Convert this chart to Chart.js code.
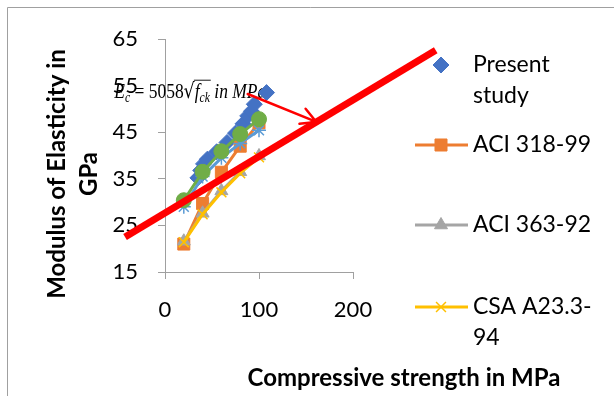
<!DOCTYPE html>
<html>
<head>
<meta charset="utf-8">
<script src="https://cdn.jsdelivr.net/npm/chart.js@4.4.1/dist/chart.umd.min.js"></script>
<style>
html, body { margin: 0; padding: 0; background: #fff; }
canvas { display: block; }
</style>
</head>
<body>
<canvas id="grafico" width="614" height="396"></canvas>
<script>
// datos (fck en MPa, Ec en GPa)
const resistencia = [20, 40, 60, 80, 100];
const presenteX = [35, 38, 41, 45, 55, 66, 75, 83, 88, 92, 95, 108];
const presenteY = [35.2, 36.8, 38.2, 39.2, 40.8, 42.8, 44.8, 46.8, 48.5, 49.5, 51.0, 53.5];
const aci318 = [21.0, 29.7, 36.4, 42.0, 47.0];
const aci363 = [21.6, 27.6, 32.4, 36.5, 39.9];
const csa = [21.4, 27.4, 32.1, 36.2, 39.6];
const serie5 = [29.0, 35.5, 39.5, 42.6, 45.4];
const serie6 = [30.4, 36.5, 40.9, 44.6, 47.8];
// recta roja y flecha dibujadas sobre el grafico
const rectaX = [-42.5, 288];
const rectaY = [22.5, 62.6];
const flechaX = [88, 161];
const flechaY = [53.2, 47.2];
const ticksX = [0, 100, 200];
const ticksY = [15, 25, 35, 45, 55, 65];
const nombres = ["Present study", "ACI 318-99", "ACI 363-92", "CSA A23.3-94", "Series 5", "Series 6"];
const leyendaLineas = [["Present", "study"], ["ACI 318-99"], ["ACI 363-92"], ["CSA A23.3-", "94"]];

const puntos = (xs, ys) => xs.map((x, i) => ({ x: x, y: ys[i] }));

const fuente = "Lato";

function serie(nombre, datos, color, estilo, radio, orden, extra) {
    return Object.assign({
        label: nombre,
        data: datos,
        showLine: true,
        borderColor: color,
        backgroundColor: color,
        borderWidth: 3,
        pointStyle: estilo,
        pointRadius: radio,
        pointBackgroundColor: color,
        pointBorderColor: color,
        pointBorderWidth: 1,
        order: orden
    }, extra || {});
}

const datasets = [
    serie(nombres[0], puntos(presenteX, presenteY), "#4472C4", "rectRot", 8, 7, { showLine: false }),
    serie(nombres[1], puntos(resistencia, aci318), "#ED7D31", "rect", 8.5, 6),
    serie(nombres[2], puntos(resistencia, aci363), "#A5A5A5", "triangle", 7.5, 5),
    serie(nombres[3], puntos(resistencia, csa), "#FFC000", "crossRot", 7, 4, { pointBorderWidth: 1.5 }),
    serie(nombres[4], puntos(resistencia, serie5), "#5B9BD5", "star", 7, 3, { pointBorderWidth: 1.5 }),
    serie(nombres[5], puntos(resistencia, serie6), "#70AD47", "circle", 7.5, 2),
    {
        label: "recta",
        data: puntos(rectaX, rectaY),
        showLine: true,
        borderColor: "#FF0000",
        borderWidth: 7,
        pointRadius: 0,
        clip: false,
        order: 1
    }
];

function marcador(ctx, ds, x, y) {
    ctx.save();
    ctx.fillStyle = ds.pointBackgroundColor;
    ctx.strokeStyle = ds.pointBorderColor;
    ctx.lineWidth = ds.pointBorderWidth;
    Chart.helpers.drawPoint(ctx, { pointStyle: ds.pointStyle, radius: ds.pointRadius, borderWidth: ds.pointBorderWidth, rotation: 0 }, x, y);
    ctx.restore();
}

function dibujarFormula(ctx, x, y) {
    const g = '21px "Liberation Serif"';
    const gi = 'italic 21px "Liberation Serif"';
    const pi = 'italic 14px "Liberation Serif"';
    const partes = [
        { t: "E", f: gi, dy: 0 },
        { t: "c", f: pi, dy: 4 },
        { t: " = 5058", f: g, dy: 0 },
        { t: "\u221A", f: '21px "DejaVu Serif"', dy: 0, raiz: true },
        { t: "f", f: gi, dy: 0, dentro: true },
        { t: "ck", f: pi, dy: 4, dentro: true },
        { t: " in MPa", f: gi, dy: 0 }
    ];
    let total = 0;
    partes.forEach(p => { ctx.font = p.f; p.w = ctx.measureText(p.t).width; total += p.w; });
    const escala = 152 / total;
    ctx.save();
    ctx.translate(x, y);
    ctx.scale(escala, 1);
    ctx.fillStyle = "#000";
    ctx.textBaseline = "alphabetic";
    let cx = 0, ini = 0, fin = 0;
    partes.forEach(p => {
        ctx.font = p.f;
        ctx.fillText(p.t, cx, p.dy);
        if (p.raiz) ini = cx + p.w;
        cx += p.w;
        if (p.dentro) fin = cx;
    });
    ctx.strokeStyle = "#000";
    ctx.lineWidth = 1;
    ctx.beginPath();
    ctx.moveTo(ini - 1, -17.5);
    ctx.lineTo(fin + 1, -17.5);
    ctx.stroke();
    ctx.restore();
}

const adornos = {
    id: "adornos",
    beforeDraw(chart) {
        const ctx = chart.ctx;
        ctx.save();
        ctx.fillStyle = "#fff";
        ctx.fillRect(0, 0, chart.width, chart.height);
        ctx.strokeStyle = "#a0a0a0";
        ctx.lineWidth = 1;
        ctx.beginPath();
        ctx.moveTo(7.5, chart.height);
        ctx.lineTo(7.5, 7.5);
        ctx.lineTo(chart.width, 7.5);
        ctx.stroke();
        ctx.restore();
    },
    beforeDatasetsDraw(chart) {
        const sx = chart.scales.x, sy = chart.scales.y;
        dibujarFormula(chart.ctx, sx.getPixelForValue(-54), sy.getPixelForValue(52.4));
    },
    afterDatasetsDraw(chart) {
        const ctx = chart.ctx;
        const sx = chart.scales.x, sy = chart.scales.y;
        const x0 = sx.getPixelForValue(flechaX[0]), y0 = sy.getPixelForValue(flechaY[0]);
        const x1 = sx.getPixelForValue(flechaX[1]), y1 = sy.getPixelForValue(flechaY[1]);
        const ang = Math.atan2(y1 - y0, x1 - x0);
        ctx.save();
        ctx.strokeStyle = "#FF0000";
        ctx.lineWidth = 2.5;
        ctx.lineCap = "round";
        ctx.beginPath();
        ctx.moveTo(x0, y0);
        ctx.lineTo(x1, y1);
        ctx.moveTo(x1 - 17 * Math.cos(ang - 0.5), y1 - 17 * Math.sin(ang - 0.5));
        ctx.lineTo(x1, y1);
        ctx.lineTo(x1 - 17 * Math.cos(ang + 0.5), y1 - 17 * Math.sin(ang + 0.5));
        ctx.stroke();
        ctx.restore();
    },
    afterDraw(chart) {
        const ctx = chart.ctx;
        ctx.save();
        ctx.fillStyle = "#000";
        ctx.textBaseline = "middle";
        // titulos de ejes
        ctx.font = "bold 24px " + fuente;
        ctx.textAlign = "center";
        ctx.fillText("Compressive strength in MPa", 404, 378);
        ctx.save();
        ctx.translate(73, 174);
        ctx.rotate(-Math.PI / 2);
        ctx.fillText("Modulus of Elasticity in", 0, -16);
        ctx.fillText("GPa", 0, 16);
        ctx.restore();
        // leyenda
        const filas = [65, 145, 225, 307];
        ctx.font = "23px " + fuente;
        ctx.textAlign = "left";
        leyendaLineas.forEach((lineas, i) => {
            const ds = chart.data.datasets[i];
            const y = filas[i];
            if (ds.showLine) {
                ctx.strokeStyle = ds.borderColor;
                ctx.lineWidth = ds.borderWidth;
                ctx.beginPath();
                ctx.moveTo(415, y);
                ctx.lineTo(468, y);
                ctx.stroke();
            }
            marcador(ctx, ds, 441, y);
            ctx.fillStyle = "#000";
            lineas.forEach((t, j) => ctx.fillText(t, 473, y + j * 31));
        });
        ctx.restore();
    }
};

const ejeComun = {
    type: "linear",
    grid: { drawOnChartArea: false, drawTicks: true, tickLength: 7, color: "#a0a0a0" },
    border: { color: "#a0a0a0", width: 1 }
};

new Chart(document.getElementById("grafico"), {
    type: "scatter",
    data: { datasets: datasets },
    options: {
        responsive: false,
        animation: false,
        events: [],
        layout: { padding: { left: 0, top: 39, right: 261, bottom: 0 } },
        plugins: { legend: { display: false }, tooltip: { enabled: false } },
        scales: {
            x: Object.assign({}, ejeComun, {
                min: 0, max: 200,
                ticks: { padding: 18, color: "#000", font: { family: fuente, size: 22 } },
                afterBuildTicks: s => { s.ticks = ticksX.map(v => ({ value: v })); },
                afterFit: s => { s.height = 124; }
            }),
            y: Object.assign({}, ejeComun, {
                min: 15, max: 65,
                ticks: { padding: 20, color: "#000", font: { family: fuente, size: 22 } },
                afterBuildTicks: s => { s.ticks = ticksY.map(v => ({ value: v })); },
                afterFit: s => { s.width = 165; }
            })
        }
    },
    plugins: [adornos]
});
</script>
</body>
</html>
